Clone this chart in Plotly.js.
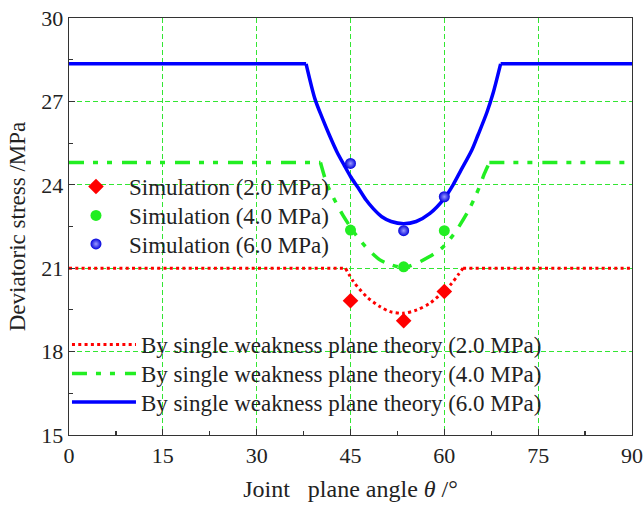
<!DOCTYPE html>
<html>
<head>
<meta charset="utf-8">
<script src="https://cdn.plot.ly/plotly-3.0.1.min.js"></script>
<style>html,body{margin:0;padding:0;background:#fff;}#chart{width:644px;height:505px;}</style>
</head>
<body>
<div id="chart"></div>
<script>
// Theory curves (single weakness plane theory)
const theta2 = [0, 44.2, 45.5, 47.6, 49.7, 51.3, 53.4, 55.6, 57.7, 59.8, 61.2, 62.2, 63.0, 90];
const stress2 = [21.0, 21.0, 20.51, 19.97, 19.62, 19.44, 19.38, 19.5, 19.74, 20.15, 20.46, 20.76, 21.0, 21.0];

const theta4 = [0, 40.2, 41.2, 42.2, 43.8, 45.7, 47.5, 49.7, 51.5, 53.5, 55.3, 57.5, 59.6, 61.4, 62.2, 63.8, 64.9, 65.7, 66.4, 67.2, 90];
const stress4 = [24.8, 24.8, 24.05, 23.57, 22.9, 22.25, 21.75, 21.3, 21.12, 21.02, 21.15, 21.4, 21.72, 22.19, 22.45, 23.05, 23.55, 23.98, 24.4, 24.8, 24.8];

const theta6 = [0, 37.9, 39.3, 40.4, 41.6, 42.8, 44.0, 45.0, 46.2, 47.5, 48.6, 50.0, 51.5, 53.5, 55.5, 57.7, 60.0, 61.4, 62.6, 64.4, 65.4, 66.8, 67.8, 69.0, 90];
const stress6 = [28.35, 28.35, 27.1, 26.45, 25.8, 25.2, 24.7, 24.3, 23.9, 23.45, 23.15, 22.85, 22.68, 22.6, 22.68, 22.97, 23.51, 24.0, 24.5, 25.25, 25.8, 26.6, 27.3, 28.35, 28.35];

// Simulation results
const simTheta = [45, 53.5, 60];
const sim2 = [19.83, 19.11, 20.16];
const sim4 = [22.37, 21.05, 22.35];
const sim6 = [24.77, 22.35, 23.57];

const simNames = ['Simulation (2.0 MPa)', 'Simulation (4.0 MPa)', 'Simulation (6.0 MPa)'];
const theoryNames = ['By single weakness plane theory (2.0 MPa)', 'By single weakness plane theory (4.0 MPa)', 'By single weakness plane theory (6.0 MPa)'];

const xTicks = [0, 15, 30, 45, 60, 75, 90];
const yTicks = [15, 18, 21, 24, 27, 30];

const FONT = 'Liberation Serif, Times New Roman, serif';
const RED = '#ff0000', GREEN = '#22ee22', BLUE = '#0000ff';

// split a theory curve into flat-left / curved / flat-right parts
function theoryTraces(xs, ys, name, legendId, line) {
  let i0 = 0;
  while (i0 + 1 < ys.length && ys[i0 + 1] === ys[0]) i0++;
  let i1 = ys.length - 1;
  while (i1 - 1 >= 0 && ys[i1 - 1] === ys[ys.length - 1]) i1--;
  const grp = name;
  return [
    {x: xs.slice(0, i0 + 1), y: ys.slice(0, i0 + 1), mode: 'lines', name: name, legend: legendId,
     legendgroup: grp, showlegend: false, line: Object.assign({}, line)},
    {x: xs.slice(i0, i1 + 1), y: ys.slice(i0, i1 + 1), mode: 'lines', name: name, legend: legendId,
     legendgroup: grp, showlegend: true, line: Object.assign({shape: 'spline', smoothing: 0.8}, line)},
    {x: xs.slice(i1), y: ys.slice(i1), mode: 'lines', name: name, legend: legendId,
     legendgroup: grp, showlegend: false, line: Object.assign({}, line)}
  ];
}

const traces = [].concat(
  theoryTraces(theta2, stress2, theoryNames[0], 'legend4', {color: RED, width: 3, dash: '3px,3.3px'}),
  theoryTraces(theta4, stress4, theoryNames[1], 'legend5', {color: GREEN, width: 3.5, dash: '15px,9px,5px,9px,5px,10px'}),
  theoryTraces(theta6, stress6, theoryNames[2], 'legend6', {color: BLUE, width: 3.5}),
  [
    {x: simTheta, y: sim2, mode: 'markers', name: simNames[0], legend: 'legend',
     marker: {symbol: 'diamond', color: RED, size: 12}},
    {x: simTheta, y: sim4, mode: 'markers', name: simNames[1], legend: 'legend2',
     marker: {symbol: 'circle', color: GREEN, size: 11}},
    {x: simTheta, y: sim6, mode: 'markers', name: simNames[2], legend: 'legend3',
     marker: {symbol: 'circle', color: '#0000dd', size: 11, gradient: {type: 'radial', color: '#9a9aff'}}}
  ]
);

const axisCommon = {
  showline: true, linecolor: '#333', linewidth: 1.3, mirror: true,
  ticks: 'inside', ticklen: 6, tickwidth: 1.2, tickcolor: '#333',
  showgrid: true, gridcolor: '#33e633', gridwidth: 1, griddash: '5px,3px',
  zeroline: false, tickfont: {family: FONT, size: 22, color: '#222'}
};

function leg(x, y, size, w) {
  return {x: x, y: y, xanchor: 'left', yanchor: 'top', bgcolor: 'rgba(0,0,0,0)', borderwidth: 0,
          itemwidth: w, font: {family: FONT, size: size, color: '#222'}};
}

const layout = {
  width: 644, height: 505,
  margin: {l: 69, r: 12, t: 18, b: 70},
  paper_bgcolor: '#fff', plot_bgcolor: '#fff',
  font: {family: FONT, color: '#222'},
  showlegend: true,
  xaxis: Object.assign({}, axisCommon, {
    range: [0, 90], tickmode: 'array', tickvals: xTicks, ticktext: xTicks.map(String),
    minor: {dtick: 7.5, tick0: 0, ticks: 'inside', ticklen: 4, tickcolor: '#333', showgrid: false},
    title: {text: '\u00a0\u00a0Joint\u00a0\u00a0\u00a0plane angle <i>θ</i> /°', font: {family: FONT, size: 24, color: '#222'}, standoff: 13}
  }),
  yaxis: Object.assign({}, axisCommon, {
    range: [15, 30], tickmode: 'array', tickvals: yTicks, ticktext: yTicks.map(String),
    minor: {dtick: 1.5, tick0: 15, ticks: 'inside', ticklen: 4, tickcolor: '#333', showgrid: false},
    title: {text: 'Deviatoric stress /MPa', font: {family: FONT, size: 23, color: '#222'}, standoff: 9}
  }),
  legend:  leg(-0.0107, 0.6475, 23, 56),
  legend2: leg(-0.0107, 0.578, 23, 56),
  legend3: leg(-0.0107, 0.5096, 23, 56),
  legend4: leg(-0.0036, 0.2686, 23, 64),
  legend5: leg(-0.0036, 0.199, 23, 64),
  legend6: leg(-0.0036, 0.1307, 23, 64)
};

Plotly.newPlot('chart', traces, layout, {displayModeBar: false, staticPlot: true});
</script>
</body>
</html>
